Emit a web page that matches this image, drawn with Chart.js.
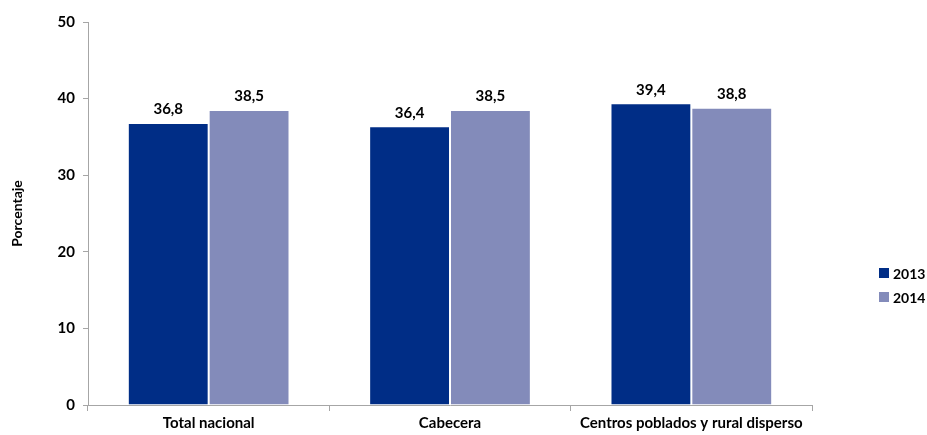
<!DOCTYPE html>
<html>
<head>
<meta charset="utf-8">
<script src="https://cdn.jsdelivr.net/npm/chart.js@4/dist/chart.umd.min.js"></script>
<style>
  body { margin: 0; background: #fff; }
  #wrap { width: 927px; height: 435px; }
</style>
</head>
<body>
<div id="wrap"><canvas id="chart" width="927" height="435"></canvas></div>
<script>
// datos
const categories = ["Total nacional", "Cabecera", "Centros poblados y rural disperso"];
const years = ["2013", "2014"];
const values2013 = [36.8, 36.4, 39.4];
const values2014 = [38.5, 38.5, 38.8];
const yTicks = [0, 10, 20, 30, 40, 50];

const colors = ["#002D86", "#838BBA"];
const fontFam = "Lato, 'Open Sans', sans-serif";

// etiquetas de valor encima de cada barra
const valueLabels = {
    id: "valueLabels",
    afterDatasetsDraw(chart) {
        const ctx = chart.ctx;
        ctx.save();
        ctx.font = "bold 15px " + fontFam;
        ctx.fillStyle = "#000";
        ctx.textAlign = "center";
        ctx.textBaseline = "bottom";
        chart.data.datasets.forEach((ds, i) => {
            chart.getDatasetMeta(i).data.forEach((bar, j) => {
                const txt = ds.data[j].toFixed(1).replace(".", ",");
                ctx.fillText(txt, bar.x, bar.y - 6);
            });
        });
        ctx.restore();
    }
};

// leyenda a la derecha
const sideLegend = {
    id: "sideLegend",
    afterDraw(chart) {
        const ctx = chart.ctx;
        ctx.save();
        ctx.font = "bold 14px " + fontFam;
        ctx.textBaseline = "middle";
        chart.data.datasets.forEach((ds, i) => {
            const y = 273 + i * 24;
            ctx.fillStyle = ds.backgroundColor;
            ctx.fillRect(879, y - 5, 10, 10);
            ctx.fillStyle = "#000";
            ctx.fillText(ds.label, 893, y + 1);
        });
        ctx.restore();
    }
};

new Chart(document.getElementById("chart"), {
    type: "bar",
    data: {
        labels: categories,
        datasets: [
            { label: years[0], data: values2013, backgroundColor: colors[0], borderColor: "#fff", borderWidth: 1 },
            { label: years[1], data: values2014, backgroundColor: colors[1], borderColor: "#fff", borderWidth: 1 }
        ]
    },
    options: {
        responsive: false,
        animation: false,
        layout: { padding: { top: 22, right: 115, left: 0, bottom: 0 } },
        datasets: { bar: { categoryPercentage: 0.67, barPercentage: 1 } },
        plugins: {
            legend: { display: false },
            tooltip: { enabled: false }
        },
        scales: {
            x: {
                grid: { offset: true, drawOnChartArea: false, drawTicks: true, tickLength: 6, color: "#a6a6a6" },
                border: { color: "#a6a6a6" },
                ticks: { color: "#000", font: { family: fontFam, size: 15, weight: "bold" }, padding: 3 },
                afterFit(scale) { scale.height = 30; }
            },
            y: {
                min: 0,
                max: 50,
                afterBuildTicks(scale) { scale.ticks = yTicks.map(v => ({ value: v })); },
                grid: { drawOnChartArea: false, drawTicks: true, tickLength: 5, color: "#a6a6a6" },
                border: { color: "#a6a6a6" },
                ticks: { color: "#000", font: { family: fontFam, size: 15, weight: "bold" }, padding: 8 },
                title: { display: true, text: "Porcentaje", color: "#000", font: { family: fontFam, size: 14, weight: "bold" }, padding: { top: 9, bottom: 10 } },
                afterFit(scale) { scale.width = 88; }
            }
        }
    },
    plugins: [valueLabels, sideLegend]
});
</script>
</body>
</html>
